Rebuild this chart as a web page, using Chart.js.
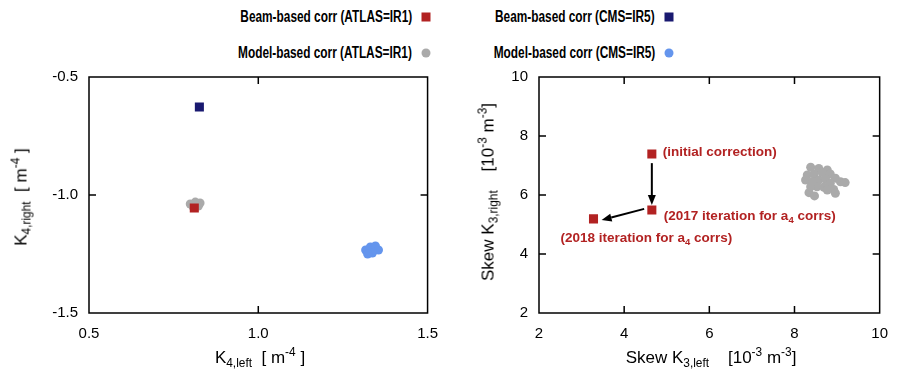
<!DOCTYPE html>
<html>
<head>
<meta charset="utf-8">
<script src="https://cdn.jsdelivr.net/npm/chart.js@4.4.1/dist/chart.umd.min.js"></script>
<style>
  body { margin: 0; background: #fff; }
  #wrap { position: relative; width: 900px; height: 372px; overflow: hidden;
          font-family: 'Liberation Sans', Arial, sans-serif; color: #000; }
  .pane { position: absolute; top: 0; width: 450px; height: 372px; }
  /* legend text in the reference is a condensed bold face */
  .leg { position: absolute; font-family: 'Liberation Sans', Arial, sans-serif;
         font-weight: bold; font-size: 16px; white-space: nowrap; line-height: 1;
         transform-origin: right center; transform: translateY(-50%) scaleX(0.74); }
  .mk { position: absolute; width: 9px; height: 9px; transform: translate(-50%, -50%); }
  .ttl { position: absolute; font-size: 17px; white-space: nowrap; line-height: 1;
         transform: translate(-50%, -50%); }
  .ttl.rot { transform: translate(-50%, -50%) rotate(-90deg); }
  sub, sup { font-size: 70%; line-height: 0; }
</style>
</head>
<body>
<div id="wrap">
  <div class="leg" style="right:488px; top:17px;">Beam-based corr (ATLAS=IR1)</div>
  <div class="mk" style="left:426px; top:17px; background:#b22222;"></div>
  <div class="leg" style="right:488px; top:53px;">Model-based corr (ATLAS=IR1)</div>
  <div class="mk" style="left:426px; top:53px; background:#aaaaaa; border-radius:50%;"></div>
  <div class="leg" style="right:245px; top:17px;">Beam-based corr (CMS=IR5)</div>
  <div class="mk" style="left:669px; top:17px; background:#191970;"></div>
  <div class="leg" style="right:245px; top:53px;">Model-based corr (CMS=IR5)</div>
  <div class="mk" style="left:669px; top:53px; background:#6495ed; border-radius:50%;"></div>

  <div class="pane" style="left:0;"><canvas id="chart-k4" width="450" height="372"></canvas></div>
  <div class="pane" style="left:450px;"><canvas id="chart-k3" width="450" height="372"></canvas></div>

  <div class="ttl" style="left:260px; top:357px;">K<sub>4,left</sub>&nbsp; [ m<sup>-4</sup> ]</div>
  <div class="ttl rot" style="left:21px; top:197px;">K<sub>4,right</sub>&nbsp; [ m<sup>-4</sup> ]</div>
  <div class="ttl" style="left:711px; top:357px;">Skew K<sub>3,left</sub>&nbsp;&nbsp;&nbsp; [10<sup>-3</sup> m<sup>-3</sup>]</div>
  <div class="ttl rot" style="left:488px; top:192px;">Skew K<sub>3,right</sub>&nbsp;&nbsp;&nbsp; [10<sup>-3</sup> m<sup>-3</sup>]</div>
</div>

<script>
// ---- Data: left panel (octupolar K4) ----
const k4BeamAtlasX = [0.811];
const k4BeamAtlasY = [-1.055];
const k4BeamCmsX = [0.826];
const k4BeamCmsY = [-0.627];
const k4ModelAtlasX = [0.799, 0.814, 0.828, 0.808, 0.823];
const k4ModelAtlasY = [-1.038, -1.030, -1.034, -1.051, -1.047];
const k4ModelCmsX = [1.317, 1.331, 1.346, 1.355, 1.337, 1.323];
const k4ModelCmsY = [-1.233, -1.220, -1.216, -1.233, -1.246, -1.250];
const k4XTicks = [0.5, 1.0, 1.5];
const k4YTicks = [-1.5, -1.0, -0.5];

// ---- Data: right panel (skew K3) ----
const k3BeamX = [4.65, 4.65, 3.28];
const k3BeamY = [7.39, 5.49, 5.19];
const k3Notes = [
  ['(initial correction)'],
  ['(2017 iteration for a', '4', ' corrs)'],
  ['(2018 iteration for a', '4', ' corrs)'],
];
const k3ModelX = [8.38, 8.57, 8.77, 8.30, 8.46, 8.65, 8.84, 8.96, 9.08, 9.19, 8.26, 8.42,
                  8.57, 8.73, 8.84, 8.53, 8.69, 8.92, 8.96, 8.34, 8.47, 8.38, 8.77];
const k3ModelY = [6.94, 6.90, 6.85, 6.68, 6.71, 6.76, 6.71, 6.57, 6.45, 6.42, 6.51, 6.45,
                  6.51, 6.53, 6.40, 6.28, 6.26, 6.19, 6.06, 6.08, 5.97, 6.28, 6.17];
const arrowFromX = [4.65, 4.47];
const arrowFromY = [7.08, 5.53];
const arrowToX = [4.65, 3.47];
const arrowToY = [5.66, 5.15];
const k3XTicks = [2, 4, 6, 8, 10];
const k3YTicks = [2, 4, 6, 8, 10];

// ---- Colours ----
const RED = '#b22222', NAVY = '#191970', GREY = '#aaaaaa', BLUE = '#6495ed';

Chart.defaults.font.family = "'Liberation Sans', Arial, sans-serif";
Chart.defaults.font.size = 15;
Chart.defaults.color = '#000';

const zip = (xs, ys) => xs.map((x, i) => ({ x, y: ys[i] }));

// ---- Gnuplot-style frame with inward mirrored ticks ----
const frameTicks = {
  id: 'frameTicks',
  afterDraw(chart) {
    const { ctx, chartArea: a, scales: { x, y } } = chart;
    ctx.save();
    ctx.strokeStyle = '#000';
    ctx.lineWidth = 1.5;
    ctx.strokeRect(a.left, a.top, a.right - a.left, a.bottom - a.top);
    ctx.beginPath();
    x.ticks.forEach(t => {
      const px = x.getPixelForValue(t.value);
      if (px <= a.left + 1 || px >= a.right - 1) return;
      ctx.moveTo(px, a.bottom); ctx.lineTo(px, a.bottom - 7);
      ctx.moveTo(px, a.top);    ctx.lineTo(px, a.top + 7);
    });
    y.ticks.forEach(t => {
      const py = y.getPixelForValue(t.value);
      if (py <= a.top + 1 || py >= a.bottom - 1) return;
      ctx.moveTo(a.left, py);  ctx.lineTo(a.left + 7, py);
      ctx.moveTo(a.right, py); ctx.lineTo(a.right - 7, py);
    });
    ctx.stroke();
    ctx.restore();
  }
};

// ---- Arrows + red notes on the skew panel ----
const noteOffsets = [[11, -2], [12, 6], [-33, 19]];
function drawRich(ctx, parts, x, y) {
  let cx = x;
  parts.forEach((p, i) => {
    const isSub = i % 2 === 1;
    ctx.font = isSub ? 'bold 9.5px "Liberation Sans", Arial, sans-serif'
                     : 'bold 13.5px "Liberation Sans", Arial, sans-serif';
    ctx.fillText(p, cx, isSub ? y + 4 : y);
    cx += ctx.measureText(p).width;
  });
}
const skewNotes = {
  id: 'skewNotes',
  afterDatasetsDraw(chart) {
    const { ctx, scales: { x, y } } = chart;
    ctx.save();
    ctx.strokeStyle = '#000';
    ctx.fillStyle = '#000';
    ctx.lineWidth = 2;
    arrowFromX.forEach((_, i) => {
      const x0 = x.getPixelForValue(arrowFromX[i]), y0 = y.getPixelForValue(arrowFromY[i]);
      const x1 = x.getPixelForValue(arrowToX[i]),   y1 = y.getPixelForValue(arrowToY[i]);
      const ang = Math.atan2(y1 - y0, x1 - x0);
      const hl = 10, hw = 4;
      const bx = x1 - hl * Math.cos(ang), by = y1 - hl * Math.sin(ang);
      ctx.beginPath();
      ctx.moveTo(x0, y0); ctx.lineTo(bx, by);
      ctx.stroke();
      ctx.beginPath();
      ctx.moveTo(x1, y1);
      ctx.lineTo(bx + hw * Math.sin(ang), by - hw * Math.cos(ang));
      ctx.lineTo(bx - hw * Math.sin(ang), by + hw * Math.cos(ang));
      ctx.closePath();
      ctx.fill();
    });
    ctx.fillStyle = RED;
    ctx.textBaseline = 'middle';
    ctx.textAlign = 'left';
    k3Notes.forEach((parts, i) => {
      const px = x.getPixelForValue(k3BeamX[i]) + noteOffsets[i][0];
      const py = y.getPixelForValue(k3BeamY[i]) + noteOffsets[i][1];
      drawRich(ctx, parts, px, py);
    });
    ctx.restore();
  }
};

function squareSet(label, data, color) {
  return { label, data, pointStyle: 'rect', pointRadius: 6.4, pointBorderWidth: 0,
           backgroundColor: color, borderColor: color, showLine: false };
}
function dotSet(label, data, color) {
  return { label, data, pointStyle: 'circle', pointRadius: 4.5, pointBorderWidth: 0,
           backgroundColor: color, borderColor: color, showLine: false };
}

function makeScatter(canvasId, datasets, xr, yr, xTicks, yTicks, fmt, rightPad, plugins) {
  return new Chart(document.getElementById(canvasId), {
    type: 'scatter',
    data: { datasets },
    options: {
      responsive: false,
      animation: false,
      layout: { padding: { top: 77, right: rightPad, bottom: 29, left: 0 } },
      plugins: { legend: { display: false }, tooltip: { enabled: false } },
      scales: {
        x: {
          min: xr[0], max: xr[1],
          afterBuildTicks: s => { s.ticks = xTicks.map(v => ({ value: v })); },
          afterFit: s => { s.height = 30; },
          grid: { display: false, drawTicks: false },
          border: { display: false },
          ticks: { padding: 12, maxRotation: 0, callback: v => fmt(v) }
        },
        y: {
          min: yr[0], max: yr[1],
          afterBuildTicks: s => { s.ticks = yTicks.map(v => ({ value: v })); },
          afterFit: s => { s.width = 89; },
          grid: { display: false, drawTicks: false },
          border: { display: false },
          ticks: { padding: 11, callback: v => fmt(v) }
        }
      }
    },
    plugins: [frameTicks].concat(plugins || [])
  });
}

makeScatter('chart-k4', [
  squareSet('Beam-based corr (ATLAS=IR1)', zip(k4BeamAtlasX, k4BeamAtlasY), RED),
  squareSet('Beam-based corr (CMS=IR5)', zip(k4BeamCmsX, k4BeamCmsY), NAVY),
  dotSet('Model-based corr (ATLAS=IR1)', zip(k4ModelAtlasX, k4ModelAtlasY), GREY),
  dotSet('Model-based corr (CMS=IR5)', zip(k4ModelCmsX, k4ModelCmsY), BLUE),
], [0.5, 1.5], [-1.5, -0.5], k4XTicks, k4YTicks, v => v.toFixed(1), 16);

makeScatter('chart-k3', [
  squareSet('Beam-based corr (ATLAS=IR1)', zip(k3BeamX, k3BeamY), RED),
  dotSet('Model-based corr (ATLAS=IR1)', zip(k3ModelX, k3ModelY), GREY),
], [2, 10], [2, 10], k3XTicks, k3YTicks, v => String(v), 17, [skewNotes]);
</script>
</body>
</html>
